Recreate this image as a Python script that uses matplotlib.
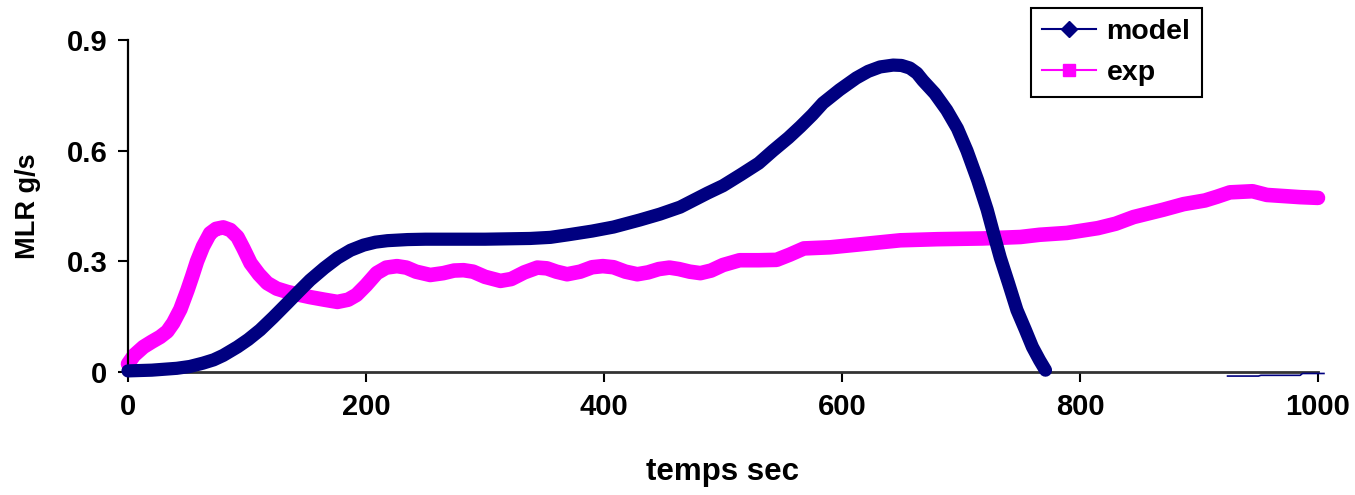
import numpy as np
import matplotlib.pyplot as plt
from matplotlib.lines import Line2D

plt.rcParams['font.family'] = ['Liberation Sans', 'DejaVu Sans']
plt.rcParams['font.weight'] = 'bold'

# model curve
model_t = [0, 20, 41, 52, 63, 72, 80, 92, 101, 111, 122, 134, 144, 153, 165, 176, 187,
           198, 208, 218, 235, 250, 300, 338, 355, 370, 390, 408, 430, 447, 464, 487,
           500, 515, 530, 542, 555, 565, 575, 584, 598, 612, 622, 632, 643, 650, 657,
           663, 668, 678, 688, 697, 705, 714, 722, 727, 733, 740, 747, 754, 760, 766, 771]
model_v = [0.003, 0.005, 0.01, 0.015, 0.024, 0.033, 0.045, 0.068, 0.088, 0.114, 0.148,
           0.187, 0.22, 0.249, 0.282, 0.309, 0.33, 0.344, 0.352, 0.356, 0.359, 0.36,
           0.36, 0.362, 0.365, 0.372, 0.382, 0.393, 0.412, 0.428, 0.447, 0.485, 0.505,
           0.535, 0.566, 0.60, 0.635, 0.665, 0.697, 0.729, 0.765, 0.797, 0.815, 0.827,
           0.832, 0.831, 0.824, 0.81, 0.79, 0.755, 0.71, 0.66, 0.60, 0.52, 0.44, 0.38,
           0.31, 0.24, 0.168, 0.115, 0.068, 0.032, 0.005]
# small tail of the model near zero at the end
tail_t = [924, 950, 952, 985, 987, 1005]
tail_v = [-0.011, -0.011, -0.009, -0.009, -0.004, -0.004]

# experimental curve
exp_t = [0, 5, 13, 20, 27, 33, 38, 44, 50, 54, 58, 63, 69, 74, 80, 86, 92, 97, 103,
         110, 117, 125, 134, 143, 153, 165, 176, 185, 192, 200, 209, 217, 226, 234,
         242, 254, 265, 274, 282, 290, 300, 313, 322, 333, 344, 352, 360, 369, 380,
         390, 399, 408, 418, 428, 437, 446, 455, 463, 472, 481, 490, 500, 514, 530,
         545, 556, 568, 590, 612, 649, 680, 718, 750, 766, 789, 815, 830, 845, 870,
         887, 905, 915, 926, 945, 957, 985, 1000]
exp_v = [0.022, 0.045, 0.068, 0.082, 0.095, 0.11, 0.133, 0.17, 0.222, 0.26, 0.30,
         0.34, 0.376, 0.388, 0.392, 0.385, 0.366, 0.335, 0.295, 0.265, 0.241, 0.226,
         0.217, 0.21, 0.203, 0.196, 0.19, 0.196, 0.209, 0.235, 0.268, 0.283, 0.287,
         0.283, 0.272, 0.263, 0.268, 0.275, 0.276, 0.272, 0.258, 0.247, 0.252, 0.27,
         0.283, 0.281, 0.272, 0.265, 0.272, 0.284, 0.287, 0.284, 0.272, 0.265, 0.27,
         0.279, 0.283, 0.279, 0.272, 0.268, 0.275, 0.29, 0.303, 0.303, 0.304, 0.318,
         0.335, 0.338, 0.345, 0.357, 0.36, 0.362, 0.366, 0.372, 0.377, 0.39, 0.402,
         0.42, 0.44, 0.455, 0.465, 0.475, 0.487, 0.49, 0.48, 0.474, 0.472]

navy = '#000080'
magenta = '#FF00FF'

fig = plt.figure(figsize=(13.55, 4.95), dpi=100)
ax = fig.add_axes([128 / 1355, 1 - 372 / 495, (1318 - 128) / 1355, (372 - 40) / 495])

ax.plot(model_t, model_v, color=navy, lw=9.5, solid_capstyle='round',
        solid_joinstyle='round', clip_on=False, zorder=3)
ax.plot(tail_t, tail_v, color=navy, lw=1.2, clip_on=False, zorder=3)
ax.plot(exp_t, exp_v, color=magenta, lw=10.5, solid_capstyle='round',
        solid_joinstyle='round', clip_on=False, zorder=2)

ax.set_xlim(0, 1000)
ax.set_ylim(0, 0.9)
ax.set_xticks(np.arange(0, 1001, 200))
ax.set_yticks([0, 0.3, 0.6, 0.9])
ax.set_yticklabels(['0', '0.3', '0.6', '0.9'])
ax.tick_params(direction='out', length=7, width=1.5, labelsize=21, pad=8)
for lab in ax.get_xticklabels() + ax.get_yticklabels():
    lab.set_fontweight('bold')

ax.spines['top'].set_visible(False)
ax.spines['right'].set_visible(False)
ax.spines['left'].set_linewidth(1.6)
ax.spines['bottom'].set_linewidth(2)
ax.spines['bottom'].set_color('#333333')

ax.set_xlabel('temps sec', fontsize=22.5, fontweight='bold', labelpad=26)
ax.set_ylabel('MLR g/s', fontsize=19.5, fontweight='bold', labelpad=18)

handles = [Line2D([], [], color=navy, lw=1.5, marker='D', markersize=8),
           Line2D([], [], color=magenta, lw=1.5, marker='s', markersize=8)]
leg = fig.legend(handles, ['model', 'exp'], loc='upper left',
                 bbox_to_anchor=(1031 / 1355, 1 - 8 / 495), bbox_transform=fig.transFigure,
                 fancybox=False, framealpha=1, edgecolor='black',
                 handlelength=1.9, handletextpad=0.35, borderaxespad=0,
                 labelspacing=0.5, borderpad=0.4,
                 prop={'weight': 'bold', 'size': 20.5})
leg.get_frame().set_linewidth(1.5)

fig.savefig('out.png', dpi=100)
